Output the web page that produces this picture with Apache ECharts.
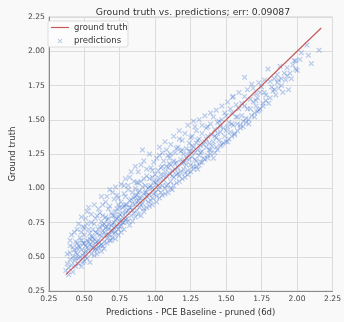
<!DOCTYPE html>
<html lang="en">
<head>
    <meta charset="UTF-8">
    <title>Ground truth vs. predictions</title>
    <script src="https://cdn.jsdelivr.net/npm/echarts@6/dist/echarts.min.js"></script>
    <style>
        html, body, #chart {
            width: 344px;
            height: 322px;
            padding: 0;
            margin: 0;
            background: #f9f9f9;
        }
    </style>
</head>
<body>
<div id="chart"></div>
<script>
    var titleText = "Ground truth vs. predictions; err: 0.09087";
    var axisTicks = [0.25, 0.5, 0.75, 1.0, 1.25, 1.5, 1.75, 2.0, 2.25];

    // y = x reference line end points
    var truthLine = [[0.37, 0.37], [2.17, 2.17]];

    // [prediction, ground truth] pairs
    var predictions = [
        [0.37,0.40],[0.38,0.45],[0.38,0.52],[0.39,0.42],[0.40,0.48],[0.40,0.58],[0.41,0.44],[0.41,0.66],
        [0.42,0.50],[0.42,0.39],[0.43,0.55],[0.43,0.47],[0.44,0.61],[0.44,0.43],[0.45,0.52],[0.45,0.70],
        [0.39,0.37],[0.42,0.57],[0.44,0.49],[0.40,0.53],
        [0.46,0.45],[0.46,0.58],[0.47,0.50],[0.47,0.64],[0.48,0.43],[0.48,0.55],[0.49,0.60],[0.49,0.72],
        [0.50,0.47],[0.50,0.53],[0.50,0.66],[0.51,0.58],[0.51,0.78],[0.52,0.49],[0.52,0.62],[0.53,0.55],
        [0.53,0.70],[0.54,0.46],[0.54,0.59],[0.55,0.65],[0.55,0.52],[0.47,0.57],[0.49,0.51],[0.51,0.54],
        [0.53,0.61],[0.55,0.75],[0.52,0.83],[0.48,0.68],[0.50,0.60],[0.54,0.67],
        [0.56,0.57],[0.56,0.70],[0.57,0.51],[0.57,0.63],[0.58,0.60],[0.58,0.78],[0.59,0.55],[0.59,0.67],
        [0.60,0.62],[0.60,0.85],[0.61,0.58],[0.61,0.72],[0.62,0.65],[0.62,0.54],[0.63,0.69],[0.63,0.80],
        [0.64,0.61],[0.64,0.74],[0.65,0.66],[0.65,0.90],[0.57,0.74],[0.59,0.61],[0.61,0.66],[0.63,0.58],
        [0.56,0.64],[0.60,0.70],[0.62,0.76],[0.64,0.68],[0.58,0.68],[0.62,0.94],
        [0.66,0.63],[0.66,0.77],[0.67,0.70],[0.67,0.85],[0.68,0.66],[0.68,0.99],[0.69,0.73],[0.69,0.62],
        [0.70,0.80],[0.70,0.69],[0.71,0.75],[0.71,0.92],[0.72,0.68],[0.72,0.83],[0.73,0.78],[0.73,0.72],
        [0.74,0.88],[0.74,0.70],[0.75,0.81],[0.75,0.76],[0.67,0.78],[0.69,0.82],[0.71,0.71],[0.73,0.95],
        [0.66,0.72],[0.70,0.74],[0.72,0.77],[0.74,0.79],
        [0.76,0.73],[0.76,0.90],[0.77,0.79],[0.77,0.86],[0.78,0.75],[0.78,1.02],[0.79,0.82],[0.79,0.94],
        [0.80,0.78],[0.80,0.88],[0.81,0.84],[0.81,0.76],[0.82,0.91],[0.82,1.08],[0.83,0.86],[0.83,0.80],
        [0.84,0.97],[0.84,0.89],[0.85,0.82],[0.85,0.93],[0.77,0.82],[0.79,0.77],[0.81,0.99],[0.83,0.92],
        [0.78,0.87],[0.80,0.83],
        [0.86,0.88],[0.86,1.00],[0.87,0.84],[0.87,0.95],[0.88,0.91],[0.88,1.12],[0.89,0.86],[0.89,0.98],
        [0.90,0.93],[0.90,1.05],[0.91,0.89],[0.91,1.28],[0.92,0.96],[0.92,0.85],[0.93,1.02],[0.93,0.92],
        [0.94,1.09],[0.94,0.97],[0.95,0.90],[0.95,1.00],[0.87,1.04],[0.89,0.93],[0.91,1.01],[0.93,0.97],
        [0.96,0.95],[0.96,1.07],[0.97,0.91],[0.97,1.15],[0.98,1.00],[0.98,0.93],[0.99,1.05],[0.99,1.19],
        [1.00,0.97],[1.00,1.10],[1.01,0.94],[1.01,1.03],[1.02,1.13],[1.02,0.99],[1.03,1.07],[1.03,1.24],
        [1.04,0.97],[1.04,1.10],[1.05,1.02],[1.05,1.16],[0.97,1.02],[1.00,1.04],[1.03,1.01],
        [1.06,1.06],[1.06,1.20],[1.07,1.00],[1.07,1.12],[1.08,1.09],[1.08,1.28],[1.09,1.03],[1.09,1.15],
        [1.10,1.11],[1.10,1.22],[1.11,1.05],[1.11,1.17],[1.12,1.13],[1.12,0.99],[1.13,1.20],[1.13,1.08],
        [1.14,1.26],[1.14,1.14],[1.15,1.10],[1.15,1.19],[1.08,1.16],[1.11,1.25],
        [1.16,1.15],[1.16,1.30],[1.17,1.09],[1.17,1.42],[1.18,1.21],[1.18,1.12],[1.19,1.35],[1.19,1.18],
        [1.20,1.14],[1.20,1.25],[1.21,1.20],[1.21,1.08],[1.22,1.29],[1.22,1.17],[1.23,1.24],[1.23,1.13],
        [1.24,1.33],[1.24,1.21],[1.25,1.17],[1.25,1.27],
        [1.26,1.23],[1.26,1.38],[1.27,1.16],[1.27,1.30],[1.28,1.26],[1.28,1.45],[1.29,1.20],[1.29,1.33],
        [1.30,1.28],[1.30,1.14],[1.31,1.36],[1.31,1.24],[1.32,1.31],[1.32,1.19],[1.33,1.40],[1.33,1.27],
        [1.34,1.22],[1.35,1.34],
        [1.36,1.30],[1.36,1.44],[1.37,1.24],[1.37,1.38],[1.38,1.33],[1.39,1.47],[1.39,1.28],[1.40,1.39],
        [1.41,1.34],[1.41,1.22],[1.42,1.43],[1.43,1.37],[1.43,1.30],[1.44,1.48],[1.45,1.35],
        [1.46,1.41],[1.47,1.32],[1.47,1.50],[1.48,1.44],[1.49,1.38],[1.50,1.53],[1.51,1.45],[1.51,1.34],
        [1.52,1.48],[1.53,1.41],[1.54,1.55],[1.55,1.46],[1.545,1.665],
        [1.56,1.39],[1.57,1.52],[1.58,1.47],[1.59,1.58],[1.60,1.44],[1.61,1.53],[1.62,1.49],[1.63,1.60],
        [1.64,1.51],[1.63,1.81],
        [1.66,1.47],[1.67,1.58],[1.68,1.76],[1.69,1.63],[1.70,1.52],[1.71,1.64],[1.72,1.66],[1.73,1.57],
        [1.74,1.70],
        [1.76,1.60],[1.78,1.68],[1.795,1.87],[1.80,1.62],[1.81,1.78],[1.82,1.74],[1.83,1.71],[1.85,1.68],
        [1.86,1.77],[1.87,1.79],[1.87,1.73],[1.88,1.89],[1.89,1.80],[1.90,1.70],[1.92,1.79],[1.93,1.88],
        [1.93,1.82],[1.94,1.72],[1.95,1.84],[1.97,1.90],[1.99,1.87],[1.99,1.93],[2.00,1.86],[2.02,1.94],
        [2.03,1.99],[2.07,2.045],[2.08,1.97],[2.10,1.91],[2.155,2.008],
        // wider spread, above and below the line
        [0.40,0.62],[0.43,0.68],[0.45,0.60],[0.46,0.74],[0.48,0.79],[0.50,0.71],[0.52,0.74],[0.53,0.86],
        [0.55,0.81],[0.57,0.88],[0.59,0.80],[0.46,0.49],[0.49,0.46],[0.52,0.57],[0.55,0.58],[0.57,0.55],
        [0.59,0.52],[0.45,0.56],[0.48,0.62],[0.51,0.50],[0.54,0.63],[0.56,0.61],[0.58,0.56],[0.60,0.57],
        [0.44,0.53],
        [0.61,0.82],[0.63,0.88],[0.65,0.79],[0.66,0.94],[0.68,0.87],[0.70,0.97],[0.72,1.01],[0.74,0.93],
        [0.76,1.03],[0.78,0.96],[0.79,1.07],[0.62,0.59],[0.64,0.56],[0.66,0.60],[0.68,0.62],[0.70,0.64],
        [0.72,0.63],[0.74,0.66],[0.76,0.68],[0.78,0.70],[0.65,0.71],[0.67,0.66],[0.69,0.69],[0.71,0.80],
        [0.73,0.85],[0.75,0.72],[0.77,0.75],[0.79,0.88],[0.63,0.73],[0.67,0.74],[0.71,0.67],[0.75,0.86],
        [0.81,1.02],[0.83,1.12],[0.85,1.05],[0.86,1.16],[0.88,1.04],[0.90,1.17],[0.92,1.20],[0.94,1.14],
        [0.96,1.25],[0.98,1.13],[0.82,0.73],[0.84,0.76],[0.86,0.79],[0.88,0.81],[0.90,0.80],[0.92,0.83],
        [0.94,0.86],[0.96,0.87],[0.98,0.88],[0.82,0.86],[0.84,0.84],[0.86,0.94],[0.88,0.97],[0.90,0.88],
        [0.92,1.07],[0.94,0.94],[0.96,1.01],[0.98,1.08],[0.99,0.96],[0.87,0.90],
        [1.01,1.22],[1.03,1.30],[1.05,1.26],[1.07,1.34],[1.09,1.24],[1.11,1.32],[1.13,1.38],[1.15,1.29],
        [1.17,1.36],[1.19,1.28],[1.01,0.90],[1.03,0.93],[1.05,0.95],[1.07,0.96],[1.09,0.97],[1.11,1.00],
        [1.13,1.02],[1.15,1.04],[1.17,1.05],[1.19,1.07],[1.02,1.06],[1.04,1.15],[1.06,1.09],[1.08,1.02],
        [1.10,1.18],[1.12,1.09],[1.14,1.18],[1.16,1.11],[1.18,1.27],[1.20,1.19],
        [1.21,1.40],[1.23,1.46],[1.25,1.37],[1.27,1.49],[1.29,1.42],[1.31,1.50],[1.33,1.46],[1.35,1.53],
        [1.37,1.45],[1.39,1.55],[1.21,1.11],[1.23,1.10],[1.25,1.12],[1.27,1.14],[1.29,1.16],[1.31,1.17],
        [1.33,1.19],[1.35,1.21],[1.37,1.22],[1.39,1.25],[1.22,1.22],[1.24,1.27],[1.26,1.31],[1.28,1.21],
        [1.30,1.35],[1.32,1.26],[1.34,1.32],[1.36,1.36],[1.38,1.28],[1.40,1.31],
        [1.41,1.52],[1.43,1.57],[1.45,1.49],[1.47,1.60],[1.49,1.55],[1.51,1.63],[1.53,1.58],[1.55,1.67],
        [1.57,1.61],[1.59,1.70],[1.42,1.26],[1.44,1.28],[1.46,1.31],[1.48,1.33],[1.50,1.34],[1.52,1.36],
        [1.54,1.38],[1.56,1.40],[1.58,1.42],[1.60,1.46],[1.42,1.38],[1.46,1.45],[1.50,1.42],[1.54,1.47],
        [1.58,1.52],[1.44,1.40],
        [1.61,1.62],[1.63,1.67],[1.65,1.72],[1.67,1.65],[1.69,1.73],[1.71,1.69],[1.73,1.77],[1.75,1.74],
        [1.77,1.79],[1.62,1.45],[1.64,1.48],[1.66,1.50],[1.68,1.53],[1.70,1.55],[1.72,1.56],[1.74,1.58],
        [1.76,1.62],[1.78,1.64],[1.65,1.58],[1.71,1.60],[1.77,1.70],
        [1.81,1.66],[1.84,1.72],[1.86,1.83],[1.89,1.75],[1.91,1.84],[1.84,1.80],[1.96,1.80],[1.98,1.93]
    ];

    var xMark = "path://M0,1.5L1.5,0L5,3.5L8.5,0L10,1.5L6.5,5L10,8.5L8.5,10L5,6.5L1.5,10L0,8.5L3.5,5Z";
    var fontFamily = "DejaVu Sans";

    var myChart = echarts.init(document.getElementById("chart"));

    function valueAxis(name, gap, rotate) {
        return {
            type: "value",
            min: axisTicks[0],
            max: axisTicks[axisTicks.length - 1],
            interval: 0.25,
            name: name,
            nameLocation: "middle",
            nameGap: gap,
            nameRotate: rotate,
            nameTextStyle: {color: "#333", fontSize: 8.5, fontFamily: fontFamily},
            axisLine: {show: true, lineStyle: {color: "#8a8a8a", width: 1}},
            axisTick: {show: false},
            axisLabel: {
                color: "#444",
                fontSize: 7.6,
                fontFamily: fontFamily,
                margin: 4,
                formatter: function (v) { return v.toFixed(2); }
            },
            splitLine: {show: true, lineStyle: {color: "#dcdcdc", width: 1}}
        };
    }

    myChart.setOption({
        backgroundColor: "#f9f9f9",
        animation: false,
        title: {
            text: titleText,
            left: 188,
            textAlign: "center",
            top: 3,
            textStyle: {color: "#333", fontSize: 9.3, fontWeight: "normal", fontFamily: fontFamily}
        },
        grid: {
            left: 44,
            right: 11,
            top: 17,
            bottom: 24,
            show: true,
            borderColor: "#cfcfcf",
            borderWidth: 1,
            backgroundColor: "#f9f9f9"
        },
        graphic: [{
            type: "rect",
            shape: {x: 48, y: 21, width: 80, height: 26, r: 2},
            style: {fill: "#fcfcfc", stroke: "#dddddd", lineWidth: 1},
            z: 10
        }],
        legend: {
            left: 51,
            top: 22.5,
            orient: "vertical",
            padding: 0,
            itemWidth: 18,
            itemHeight: 5,
            itemGap: 3.4,
            symbolKeepAspect: true,
            z: 20,
            textStyle: {color: "#333", fontSize: 8.5, fontFamily: fontFamily, lineHeight: 10},
            data: [
                {name: "ground truth", icon: "path://M0,0H18V1.2H0Z"},
                {name: "predictions", icon: xMark}
            ]
        },
        xAxis: valueAxis("Predictions - PCE Baseline - pruned (6d)", 13, 0),
        yAxis: valueAxis("Ground truth", 23, 90),
        series: [{
            name: "predictions",
            type: "scatter",
            symbol: xMark,
            symbolSize: 5.5,
            data: predictions,
            itemStyle: {color: "rgba(48, 104, 206, 0.4)"},
            z: 2
        }, {
            name: "ground truth",
            type: "line",
            data: truthLine,
            symbol: "none",
            color: "#c45a5c",
            itemStyle: {color: "#c45a5c"},
            lineStyle: {color: "#c45a5c", width: 1.2},
            z: 3
        }]
    });
</script>
</body>
</html>
